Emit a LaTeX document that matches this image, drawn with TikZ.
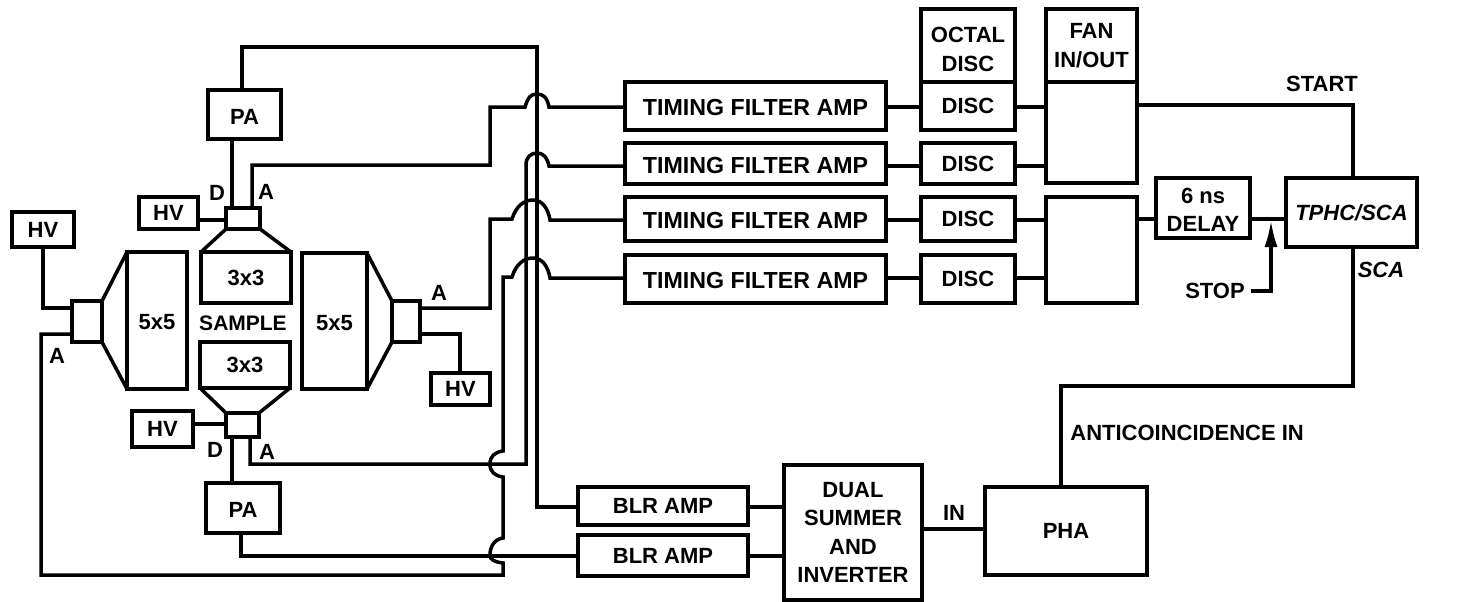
\documentclass[tikz,border=0pt]{standalone}
\usepackage{fontspec}
\setmainfont{Liberation Sans}
\usetikzlibrary{arrows.meta}
\tikzset{
  wire/.style={line width=1.75pt,line join=miter},
  box/.style={draw,line width=1.75pt,outer sep=0pt,inner sep=0pt,align=center,font=\bfseries\fontsize{11}{14.2}\selectfont},
  lab/.style={inner sep=0pt,font=\bfseries\fontsize{11}{14}\selectfont},
  tfa/.style={font=\bfseries\fontsize{11.6}{14}\selectfont},
  slant/.style={font=\bfseries\itshape\fontsize{11}{14}\selectfont}
}
% name, x1, y1, x2, y2, options, text
\newcommand\bx[7]{%
  \node[box,#6,minimum width={(#4-#2)*0.5pt},minimum height={(#5-#3)*0.5pt}] (#1) at ({(#2+#4)/2},{(#3+#5)/2}) {#7};}
\newcommand\dn[2][-1pt]{\raisebox{#1}[\height][\depth]{#2}}
\begin{document}
\begin{tikzpicture}[x=0.5pt,y=-0.5pt]
\useasboundingbox (0,0) rectangle (1462,601);
% left detector
\bx{hvl}{12}{212}{74}{247}{}{HV}
\bx{pmtl}{72}{301}{102}{342}{}{}
\bx{xl}{127}{252}{187}{389}{}{\dn[-1pt]{5x5}}
\draw[wire] (pmtl.north east) -- (xl.north west);
\draw[wire] (pmtl.south east) -- (xl.south west);
% top detector
\bx{hvt}{139}{197}{198}{229}{}{HV}
\bx{pmtt}{226}{208}{260}{229}{}{}
\bx{xt}{201}{252}{291}{303}{}{3x3}
\draw[wire] (pmtt.south west) -- (xt.north west);
\draw[wire] (pmtt.south east) -- (xt.north east);
\bx{pat}{208}{90}{281}{139}{}{\dn{PA}}
% bottom detector
\bx{xb}{200}{342}{290}{388}{}{3x3}
\bx{pmtb}{226}{413}{259}{437}{}{}
\draw[wire] (pmtb.north west) -- (xb.south west);
\draw[wire] (pmtb.north east) -- (xb.south east);
\bx{hvb}{132}{411}{193}{447}{}{HV}
\bx{pab}{206}{483}{280}{533}{}{\dn{PA}}
% right detector
\bx{xr}{302}{253}{367}{389}{}{\dn[-1pt]{5x5}}
\bx{pmtr}{392}{301}{420}{342}{}{}
\draw[wire] (pmtr.north west) -- (xr.north east);
\draw[wire] (pmtr.south west) -- (xr.south east);
\bx{hvr}{431}{373}{490}{405}{}{HV}
\node[lab,font=\bfseries\fontsize{10.5}{14}\selectfont] (sample) at (243,323) {SAMPLE};
% right blocks
\bx{tfa1}{625}{82}{886}{130}{tfa}{\dn{TIMING FILTER AMP}}
\bx{tfa2}{625}{143}{886}{184}{tfa}{\dn{TIMING FILTER AMP}}
\bx{tfa3}{625}{197}{886}{241}{tfa}{\dn{TIMING FILTER AMP}}
\bx{tfa4}{625}{255}{886}{303}{tfa}{\dn{TIMING FILTER AMP}}
\bx{oct}{921}{9}{1015}{82}{}{\dn[-2pt]{OCTAL}\\\dn[-2pt]{DISC}}
\bx{d1}{921}{82}{1015}{130}{}{DISC}
\bx{d2}{921}{143}{1015}{184}{}{DISC}
\bx{d3}{921}{197}{1015}{241}{}{DISC}
\bx{d4}{921}{255}{1015}{303}{}{DISC}
\bx{fan}{1046}{9}{1137}{82}{}{FAN\\IN/OUT}
\bx{fa}{1046}{82}{1137}{183}{}{}
\bx{fb}{1046}{197}{1137}{303}{}{}
\bx{dly}{1156}{178}{1250}{238}{}{\dn{6 ns}\\\dn{DELAY}}
\bx{tp}{1286}{178}{1417}{247}{slant}{TPHC/SCA}
\bx{blr1}{578}{487}{748}{525}{}{BLR AMP}
\bx{blr2}{578}{535}{748}{576}{}{BLR AMP}
\bx{dual}{784}{465}{922}{600}{}{DUAL\\SUMMER\\AND\\INVERTER}
\bx{pha}{985}{487}{1147}{575}{}{PHA}
% labels
\node[lab] (ld1) at (217,193) {D};
\node[lab] (la1) at (266,192) {A};
\node[lab] (la2) at (57,356) {A};
\node[lab] (la3) at (439,293) {A};
\node[lab] (ld2) at (215,450) {D};
\node[lab] (la4) at (267,452) {A};
\node[lab] (lstart) at (1322,84) {START};
\node[lab,slant] (lsca) at (1381,270) {SCA};
\node[lab] (stop) at (1215,291) {STOP};
\node[lab] (lin) at (954,513) {IN};
\node[lab,anchor=west] (lanti) at (1070,433) {ANTICOINCIDENCE IN};
% high voltage
\draw[wire] (43,0 |- hvl.south) -- (43,308) -- (72,308);
\draw[wire] (hvt.east |- 0,220) -- (pmtt.west |- 0,220);
\draw[wire] (hvb.east |- 0,424) -- (pmtb.west |- 0,424);
\draw[wire] (pmtr.east |- 0,334) -- (460,334) -- (460,0 |- hvr.north);
% dynode and anode lines, top
\draw[wire] (232,0 |- pat.south) -- (232,0 |- pmtt.north);
\draw[wire] (242,0 |- pat.north) -- (242,47) -- (537,47) -- (537,507) -- (blr1.west |- 0,507);
\draw[wire] (252,0 |- pmtt.north) -- (252,165) -- (490,165) -- (490,107) -- (525,107)
  .. controls (528,97) and (531,94) .. (537,94) .. controls (543,94) and (547,97) .. (549,107) -- (tfa1.west |- 0,107);
% right anode
\draw[wire] (pmtr.east |- 0,308) -- (490,308) -- (490,219) -- (512,219)
  .. controls (516,206) and (524,200) .. (533,200) .. controls (542,200) and (548,208) .. (550,220) -- (tfa3.west |- 0,220);
% bottom anode
\draw[wire] (250,0 |- pmtb.south) -- (250,464) -- (526,464) -- (526,165)
  .. controls (526,157) and (531,153) .. (537,153) .. controls (543,153) and (547,157) .. (549,166) -- (tfa2.west |- 0,166);
% left anode
\draw[wire] (pmtl.west |- 0,334) -- (41,334) -- (41,575) -- (503,575) -- (503,563)
  .. controls (495,562) and (490,560) .. (490,555) .. controls (490,546) and (495,539) .. (503,538)
  -- (503,477) .. controls (495,476) and (490,472) .. (490,464) .. controls (490,456) and (495,452) .. (503,451)
  -- (503,277) -- (512,277)
  .. controls (516,264) and (524,258) .. (533,258) .. controls (542,258) and (548,266) .. (550,278) -- (tfa4.west |- 0,278);
% bottom dynode
\draw[wire] (232,0 |- pmtb.south) -- (232,0 |- pab.north);
\draw[wire] (241,0 |- pab.south) -- (241,556) -- (blr2.west |- 0,556);
% horizontal chains
\foreach \a/\b/\y in {tfa1/d1/107,tfa2/d2/166,tfa3/d3/220,tfa4/d4/278,d1/fa/107,d2/fa/166,d3/fb/220,d4/fb/278}
  \draw[wire] (\a.east |- 0,\y) -- (\b.west |- 0,\y);
\draw[wire] (fb.east |- 0,219) -- (dly.west |- 0,219);
\coordinate (tap) at (1271,220);
\draw[wire] (dly.east |- 0,219) -- (tp.west |- 0,219);
\draw[wire,-{Latex[length=13.5pt,width=6.5pt]}] (stop.east) ++(6,0) -- (1271,291) -- (tap);
\draw[wire] (fa.east |- 0,105) -- (1353,105) -- (1353,0 |- tp.north);
\draw[wire] (1353,0 |- tp.south) -- (1353,386) -- (1061,386) -- (1061,0 |- pha.north);
\draw[wire] (blr1.east |- 0,507) -- (dual.west |- 0,507);
\draw[wire] (blr2.east |- 0,556) -- (dual.west |- 0,556);
\draw[wire] (dual.east |- 0,529) -- (pha.west |- 0,529);
\end{tikzpicture}
\end{document}
